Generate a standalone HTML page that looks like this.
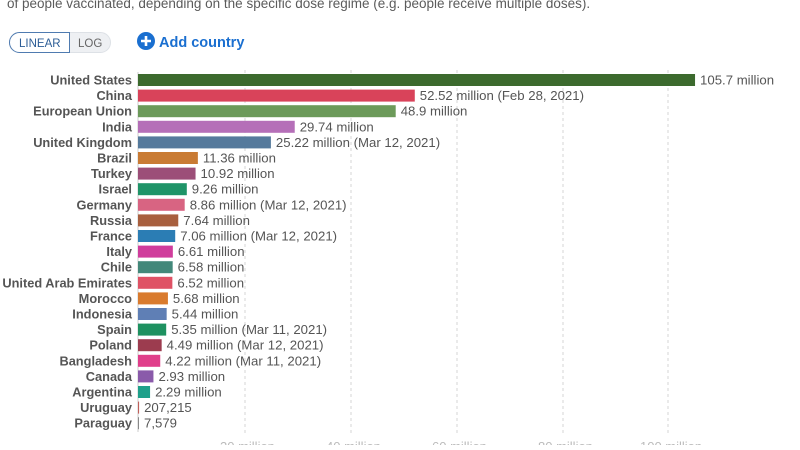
<!DOCTYPE html>
<html><head><meta charset="utf-8"><style>
body{margin:0;width:800px;height:445px;overflow:hidden;background:#fff;font-family:"Liberation Sans",sans-serif}
</style></head><body>
<svg width="800" height="445" xmlns="http://www.w3.org/2000/svg" font-family="Liberation Sans, sans-serif">
<text x="7" y="8" font-size="13.5" fill="#5b5b5b">of people vaccinated, depending on the specific dose regime (e.g. people receive multiple doses).</text>
<rect x="9.5" y="32.5" width="101" height="20" rx="10" fill="#eef0f3" stroke="#dde1e6"/>
<path d="M19.5,32.5 H69.5 V52.5 H19.5 A10,10 0 0 1 19.5,32.5 Z" fill="#fff" stroke="#4f7bb0"/>
<text x="19" y="47" font-size="11.5" fill="#2c5d96">LINEAR</text>
<text x="78" y="47" font-size="11.5" fill="#666">LOG</text>
<circle cx="146" cy="41" r="9" fill="#1a6fd0"/>
<path d="M146,36V46M141,41H151" stroke="#fff" stroke-width="2.6"/>
<text x="159" y="47" font-size="14.5" font-weight="bold" fill="#1a6fd0">Add country</text>
<g stroke="#d6d6d6" stroke-dasharray="3,3">
<line x1="245" y1="70" x2="245" y2="435"/><line x1="351" y1="70" x2="351" y2="435"/><line x1="457" y1="70" x2="457" y2="435"/><line x1="563" y1="70" x2="563" y2="435"/><line x1="668" y1="70" x2="668" y2="435"/>
</g>
<line x1="138" y1="72" x2="138" y2="432" stroke="#ccc"/>
<g id="rows"></g>
<g font-size="13" fill="#bbb"><text x="220" y="451">20 million</text><text x="326" y="451">40 million</text><text x="432" y="451">60 million</text><text x="538" y="451">80 million</text><text x="640" y="451">100 million</text></g>
</svg>
<script>
var d=[["United States",105.7,"105.7 million","#3c6a2e"],["China",52.52,"52.52 million (Feb 28, 2021)","#d9435a"],["European Union",48.9,"48.9 million","#6c9a5a"],["India",29.74,"29.74 million","#b56fb8"],["United Kingdom",25.22,"25.22 million (Mar 12, 2021)","#557a9c"],["Brazil",11.36,"11.36 million","#c97b34"],["Turkey",10.92,"10.92 million","#9c4e78"],["Israel",9.26,"9.26 million","#1f9468"],["Germany",8.86,"8.86 million (Mar 12, 2021)","#d86482"],["Russia",7.64,"7.64 million","#a85f3e"],["France",7.06,"7.06 million (Mar 12, 2021)","#2b7db4"],["Italy",6.61,"6.61 million","#d03d9c"],["Chile",6.58,"6.58 million","#43887a"],["United Arab Emirates",6.52,"6.52 million","#df5265"],["Morocco",5.68,"5.68 million","#d97b2e"],["Indonesia",5.44,"5.44 million","#5f7fb5"],["Spain",5.35,"5.35 million (Mar 11, 2021)","#1e9160"],["Poland",4.49,"4.49 million (Mar 12, 2021)","#9c3c4f"],["Bangladesh",4.22,"4.22 million (Mar 11, 2021)","#e03e8a"],["Canada",2.93,"2.93 million","#8a5aaa"],["Argentina",2.29,"2.29 million","#1fa08a"],["Uruguay",0.207,"207,215","#c0605a"],["Paraguay",0.0076,"7,579","#888"]];
var s="",k=5.27;
d.forEach(function(r,i){var c=80+i*15.6,w=Math.max(r[1]*k,1);
s+='<text x="132" y="'+(c+4.5)+'" text-anchor="end" font-weight="bold" font-size="12.8" fill="#555">'+r[0]+'</text>';
s+='<rect x="138" y="'+(c-6)+'" width="'+w+'" height="12" fill="'+r[3]+'"/>';
s+='<text x="'+(138+w+5)+'" y="'+(c+4.5)+'" font-size="13.2" fill="#555">'+r[2]+'</text>';});
document.getElementById("rows").innerHTML=s;
</script>
</body></html>
